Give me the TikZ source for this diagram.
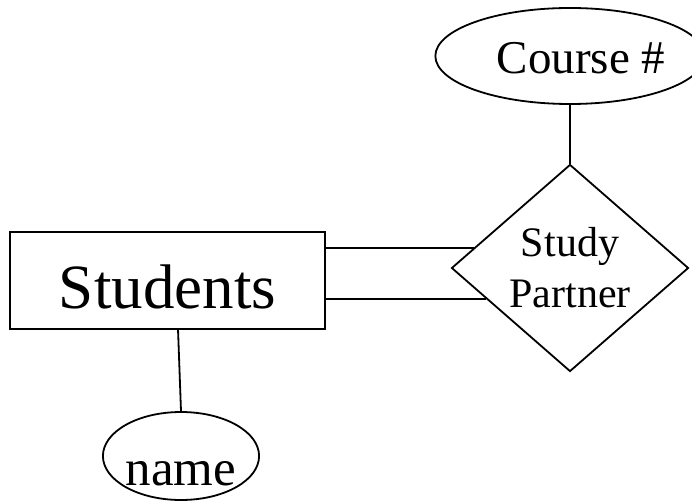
\documentclass[tikz,border=0pt]{standalone}
\usepackage{fontspec}
\setmainfont{Liberation Serif}
\usetikzlibrary{shapes.geometric,calc}
\tikzset{
  line/.style={line width=1.8pt, draw=black},
  entity/.style={draw, line width=2.2pt, rectangle, inner sep=0pt},
  attr/.style={draw, line width=1.8pt, ellipse, inner sep=0pt},
  rel/.style={draw, line width=1.8pt, diamond, inner sep=0pt, align=center},
}
\begin{document}
\begin{tikzpicture}[x=1pt,y=-1pt]
\useasboundingbox (0,0) rectangle (692,502);
\node[entity, minimum width=315pt, minimum height=97pt, text height=55pt, text depth=0pt,
      font=\fontsize{63}{63}\selectfont] (S) at (167.5,280.5) {Students};
\node[rel, minimum width=237pt, minimum height=207pt,
      font=\fontsize{42}{51}\selectfont] (D) at (570,268) {Study\\Partner};
\node[attr, minimum width=246pt, minimum height=96pt, text height=36pt, text depth=0pt,
      font=\fontsize{47}{47}\selectfont] (C) at (570,56) {\hspace*{22pt}Course \#};
\node[attr, minimum width=153pt, minimum height=88pt, text height=58pt, text depth=0pt,
      font=\fontsize{51}{51}\selectfont] (N) at (181,456) {name};
\coordinate (A1) at ($(D.west)!0.194!(D.north)$);
\coordinate (A2) at ($(D.west)!0.30!(D.south)$);
\coordinate (SB) at (178,329);
\draw[line] (S.east |- A1) -- (A1);
\draw[line] (S.east |- A2) -- (A2);
\draw[line] (C.south) -- (D.north);
\draw[line] (SB) -- (N.north);
\end{tikzpicture}
\end{document}
